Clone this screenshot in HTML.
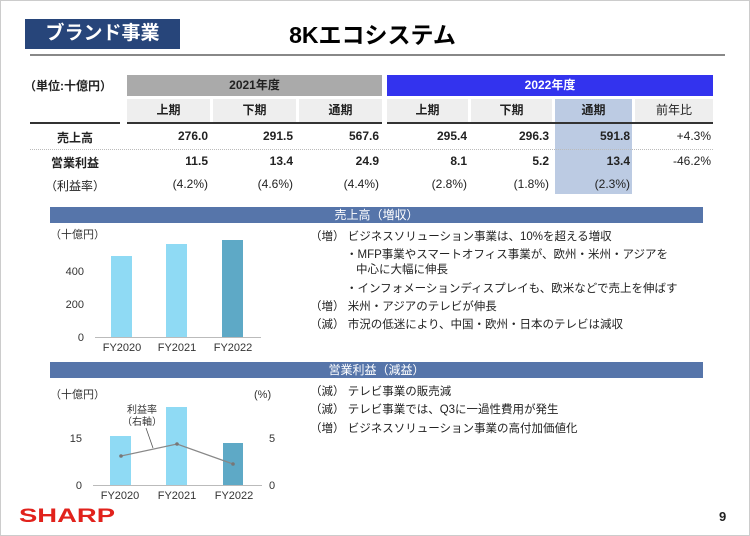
<!DOCTYPE html>
<html><head><meta charset="utf-8"><style>
*{margin:0;padding:0;box-sizing:border-box}
body{width:750px;height:536px;background:#fff;position:relative;overflow:hidden;font-family:"Liberation Sans","Noto Sans CJK JP",sans-serif;color:#222}
.a{position:absolute;white-space:nowrap}
.c{text-align:center}
.r{text-align:right}
.t{font-size:12px}
.b{font-weight:bold}
</style></head><body>
<div class="a" style="left:0;top:0;width:750px;height:536px;border:1px solid #ccc"></div>
<div class="a c b" style="left:25px;top:19px;width:155px;height:30px;background:#27457a;color:#fff;font-size:19px;line-height:30px">ブランド事業</div>
<div class="a c b" style="left:250px;top:20px;width:245px;font-size:23px;line-height:30px;color:#000">8Kエコシステム</div>
<div class="a" style="left:30px;top:54px;width:695px;height:2px;background:#888"></div>

<div class="a t b" style="left:24px;top:77px">（単位:十億円）</div>
<div class="a c t b" style="left:127px;top:75px;width:255px;height:21px;line-height:21px;background:#aaa">2021年度</div>
<div class="a c t b" style="left:387px;top:75px;width:326px;height:21px;line-height:21px;background:#3333ee;color:#fff">2022年度</div>
<div class="a" style="left:555px;top:99px;width:77px;height:95px;background:#bccbe3"></div>
<div class="a c t b" style="left:127px;top:99px;width:83px;height:23px;line-height:23px;background:#eee">上期</div>
<div class="a c t b" style="left:213px;top:99px;width:83px;height:23px;line-height:23px;background:#eee">下期</div>
<div class="a c t b" style="left:299px;top:99px;width:83px;height:23px;line-height:23px;background:#eee">通期</div>
<div class="a c t b" style="left:387px;top:99px;width:81px;height:23px;line-height:23px;background:#eee">上期</div>
<div class="a c t b" style="left:471px;top:99px;width:81px;height:23px;line-height:23px;background:#eee">下期</div>
<div class="a c t b" style="left:555px;top:99px;width:77px;height:23px;line-height:23px">通期</div>
<div class="a c t" style="left:635px;top:99px;width:78px;height:23px;line-height:23px;background:#eee">前年比</div>
<div class="a" style="left:30px;top:122px;width:90px;height:2px;background:#333"></div>
<div class="a" style="left:127px;top:122px;width:255px;height:2px;background:#333"></div>
<div class="a" style="left:387px;top:122px;width:326px;height:2px;background:#333"></div>
<div class="a" style="left:30px;top:149px;width:683px;border-top:1px dotted #bbb"></div>

<div class="a c t b" style="left:30px;top:129px;width:90px">売上高</div>
<div class="a c t b" style="left:30px;top:154px;width:90px">営業利益</div>
<div class="a c t" style="left:30px;top:177px;width:90px">（利益率）</div>

<div class="a r t b" style="left:130px;top:129px;width:78px">276.0</div>
<div class="a r t b" style="left:215px;top:129px;width:78px">291.5</div>
<div class="a r t b" style="left:300px;top:129px;width:79px">567.6</div>
<div class="a r t b" style="left:390px;top:129px;width:77px">295.4</div>
<div class="a r t b" style="left:472px;top:129px;width:77px">296.3</div>
<div class="a r t b" style="left:553px;top:129px;width:77px">591.8</div>
<div class="a r t" style="left:635px;top:129px;width:76px">+4.3%</div>

<div class="a r t b" style="left:130px;top:154px;width:78px">11.5</div>
<div class="a r t b" style="left:215px;top:154px;width:78px">13.4</div>
<div class="a r t b" style="left:300px;top:154px;width:79px">24.9</div>
<div class="a r t b" style="left:390px;top:154px;width:77px">8.1</div>
<div class="a r t b" style="left:472px;top:154px;width:77px">5.2</div>
<div class="a r t b" style="left:553px;top:154px;width:77px">13.4</div>
<div class="a r t" style="left:635px;top:154px;width:76px">-46.2%</div>

<div class="a r t" style="left:130px;top:177px;width:78px">(4.2%)</div>
<div class="a r t" style="left:215px;top:177px;width:78px">(4.6%)</div>
<div class="a r t" style="left:300px;top:177px;width:79px">(4.4%)</div>
<div class="a r t" style="left:390px;top:177px;width:77px">(2.8%)</div>
<div class="a r t" style="left:472px;top:177px;width:77px">(1.8%)</div>
<div class="a r t" style="left:553px;top:177px;width:77px">(2.3%)</div>

<div class="a c t" style="left:50px;top:207px;width:653px;height:16px;line-height:16px;background:#5675aa;color:#fff">売上高（増収）</div>
<div class="a c t" style="left:50px;top:362px;width:653px;height:16px;line-height:16px;background:#5675aa;color:#fff">営業利益（減益）</div>

<svg class="a" style="left:0;top:0" width="750" height="536" font-family="Liberation Sans,Noto Sans CJK JP,sans-serif" font-size="11" fill="#333">
<text x="50" y="238">（十億円）</text>
<text x="84" y="275" text-anchor="end">400</text>
<text x="84" y="308" text-anchor="end">200</text>
<text x="84" y="341" text-anchor="end">0</text>
<rect x="111" y="256" width="21" height="81" fill="#8fdaf4"/>
<rect x="166" y="244" width="21" height="93" fill="#8fdaf4"/>
<rect x="222" y="240" width="21" height="97" fill="#5ea9c6"/>
<line x1="95" y1="337.5" x2="261" y2="337.5" stroke="#bbb"/>
<text x="122" y="351" text-anchor="middle">FY2020</text>
<text x="177" y="351" text-anchor="middle">FY2021</text>
<text x="233" y="351" text-anchor="middle">FY2022</text>

<text x="50" y="398">（十億円）</text>
<text x="254" y="398">(%)</text>
<text x="82" y="442" text-anchor="end">15</text>
<text x="82" y="489" text-anchor="end">0</text>
<text x="272" y="442" text-anchor="middle">5</text>
<text x="272" y="489" text-anchor="middle">0</text>
<rect x="110" y="436" width="21" height="49" fill="#8fdaf4"/>
<rect x="166" y="407" width="21" height="78" fill="#8fdaf4"/>
<rect x="223" y="443" width="20" height="42" fill="#5ea9c6"/>
<line x1="93" y1="485.5" x2="262" y2="485.5" stroke="#bbb"/>
<polyline points="121,456 177,444 233,464" fill="none" stroke="#888" stroke-width="1.2"/>
<circle cx="121" cy="456" r="1.8" fill="#777"/><circle cx="177" cy="444" r="1.8" fill="#777"/><circle cx="233" cy="464" r="1.8" fill="#777"/>
<text x="142" y="413" text-anchor="middle" font-size="10">利益率</text>
<text x="142" y="425" text-anchor="middle" font-size="10">（右軸）</text>
<line x1="146" y1="428" x2="153" y2="448" stroke="#555" stroke-width="0.8"/>
<text x="120" y="499" text-anchor="middle">FY2020</text>
<text x="177" y="499" text-anchor="middle">FY2021</text>
<text x="234" y="499" text-anchor="middle">FY2022</text>

<g font-size="11.5" fill="#222">
<text x="310" y="240">（増）  ビジネスソリューション事業は、10%を超える増収</text>
<text x="346" y="258">・MFP事業やスマートオフィス事業が、欧州・米州・アジアを</text>
<text x="356" y="273">中心に大幅に伸長</text>
<text x="346" y="292">・インフォメーションディスプレイも、欧米などで売上を伸ばす</text>
<text x="310" y="310">（増）  米州・アジアのテレビが伸長</text>
<text x="310" y="328">（減）  市況の低迷により、中国・欧州・日本のテレビは減収</text>
<text x="310" y="395">（減）  テレビ事業の販売減</text>
<text x="310" y="413">（減）  テレビ事業では、Q3に一過性費用が発生</text>
<text x="310" y="432">（増）  ビジネスソリューション事業の高付加価値化</text>
</g>
<text x="19" y="522" font-size="19" font-weight="bold" fill="#e1221c" textLength="96" lengthAdjust="spacingAndGlyphs">SHARP</text>
<text x="719" y="521" font-size="13" font-weight="bold" fill="#222">9</text>
</svg>
</body></html>
